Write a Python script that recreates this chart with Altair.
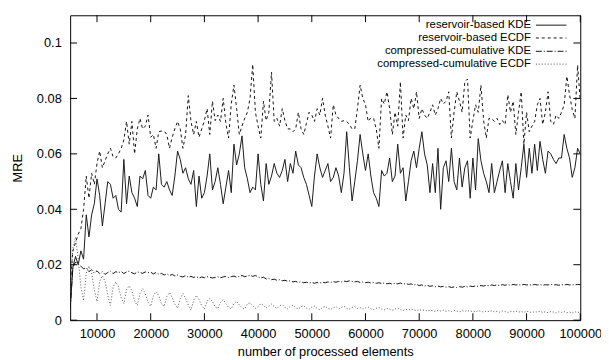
import altair as alt
import pandas as pd

# ---------------- data ----------------
x_elements = list(range(5000, 100001, 500))

kde_reservoir = [
    0.004, 0.019, 0.023, 0.020, 0.025, 0.022, 0.038, 0.030, 0.038, 0.042,
    0.051, 0.045, 0.034, 0.042, 0.050, 0.049, 0.044, 0.045, 0.040, 0.039,
    0.058, 0.042, 0.052, 0.046, 0.044, 0.041, 0.052, 0.051, 0.054, 0.045,
    0.044, 0.048, 0.047, 0.060, 0.049, 0.048, 0.050, 0.047, 0.045, 0.052,
    0.061, 0.058, 0.053, 0.055, 0.051, 0.049, 0.054, 0.041, 0.052, 0.044,
    0.046, 0.052, 0.060, 0.047, 0.050, 0.055, 0.049, 0.042, 0.048, 0.054,
    0.046, 0.0635, 0.056, 0.060, 0.0665, 0.055, 0.051, 0.046, 0.048, 0.047,
    0.060, 0.049, 0.043, 0.0565, 0.049, 0.052, 0.0565, 0.053, 0.0515, 0.054,
    0.058, 0.050, 0.0565, 0.053, 0.061, 0.056, 0.055, 0.0515, 0.049, 0.045,
    0.041, 0.052, 0.060, 0.055, 0.0515, 0.054, 0.0565, 0.050, 0.0515, 0.055,
    0.052, 0.046, 0.053, 0.068, 0.055, 0.043, 0.050, 0.0575, 0.067, 0.060,
    0.054, 0.060, 0.052, 0.046, 0.044, 0.041, 0.054, 0.052, 0.053, 0.0585,
    0.050, 0.052, 0.0635, 0.053, 0.055, 0.043, 0.050, 0.0575, 0.061, 0.055,
    0.062, 0.068, 0.060, 0.056, 0.046, 0.0565, 0.046, 0.062, 0.040, 0.055,
    0.0575, 0.050, 0.062, 0.050, 0.047, 0.0585, 0.048, 0.055, 0.0575, 0.044,
    0.0585, 0.047, 0.0655, 0.0575, 0.053, 0.050, 0.046, 0.0565, 0.046, 0.050,
    0.054, 0.0575, 0.046, 0.0565, 0.050, 0.044, 0.0565, 0.047, 0.055, 0.0635,
    0.0515, 0.062, 0.053, 0.0635, 0.054, 0.0645, 0.058, 0.053, 0.061, 0.060,
    0.058, 0.0565, 0.0585, 0.0585, 0.067, 0.062, 0.0585, 0.0515, 0.055, 0.062,
    0.060,
]

ecdf_reservoir = [
    0.012, 0.025, 0.028, 0.031, 0.033, 0.040, 0.052, 0.044, 0.053, 0.049,
    0.0565, 0.061, 0.055, 0.0575, 0.060, 0.062, 0.059, 0.0585, 0.060, 0.062,
    0.065, 0.0717, 0.0635, 0.0717, 0.060, 0.069, 0.0728, 0.069, 0.070, 0.074,
    0.066, 0.067, 0.062, 0.068, 0.0682, 0.0682, 0.067, 0.062, 0.066, 0.069,
    0.0717, 0.069, 0.062, 0.067, 0.081, 0.0717, 0.067, 0.0717, 0.066, 0.069,
    0.072, 0.0763, 0.067, 0.079, 0.072, 0.074, 0.0717, 0.080, 0.071, 0.0657,
    0.078, 0.0848, 0.0763, 0.067, 0.070, 0.0728, 0.075, 0.080, 0.0923, 0.075,
    0.070, 0.0657, 0.079, 0.072, 0.075, 0.0895, 0.0717, 0.0728, 0.070, 0.0763,
    0.072, 0.069, 0.069, 0.068, 0.069, 0.075, 0.069, 0.067, 0.071, 0.075,
    0.074, 0.0717, 0.0763, 0.074, 0.080, 0.074, 0.070, 0.0657, 0.0777, 0.074,
    0.0728, 0.0717, 0.072, 0.0717, 0.0706, 0.069, 0.069, 0.0763, 0.0848, 0.080,
    0.0777, 0.0717, 0.073, 0.0728, 0.069, 0.062, 0.080, 0.078, 0.0824, 0.0763,
    0.067, 0.075, 0.070, 0.086, 0.0657, 0.074, 0.072, 0.080, 0.0763, 0.0824,
    0.0728, 0.0763, 0.074, 0.0728, 0.075, 0.0777, 0.074, 0.0763, 0.080, 0.078,
    0.079, 0.0824, 0.0657, 0.075, 0.0824, 0.079, 0.075, 0.086, 0.087, 0.0657,
    0.072, 0.0777, 0.075, 0.0848, 0.072, 0.0657, 0.0728, 0.0728, 0.0717, 0.0728,
    0.0706, 0.072, 0.0706, 0.0813, 0.075, 0.079, 0.067, 0.075, 0.0824, 0.0635,
    0.075, 0.068, 0.070, 0.0717, 0.0777, 0.080, 0.0706, 0.075, 0.0824, 0.0717,
    0.0706, 0.074, 0.0728, 0.075, 0.0777, 0.088, 0.0813, 0.076, 0.0728, 0.092,
    0.079,
]

kde_compressed = [
    0.004, 0.019, 0.021, 0.020, 0.0195, 0.0185, 0.019, 0.0175, 0.0182, 0.017,
    0.0178, 0.0168, 0.0175, 0.0165, 0.0172, 0.0177, 0.0168, 0.0175, 0.0171, 0.0176,
    0.0168, 0.0174, 0.0177, 0.0171, 0.0167, 0.0174, 0.0172, 0.0169, 0.0174, 0.0171,
    0.0173, 0.0167, 0.0172, 0.0166, 0.0169, 0.0163, 0.0167, 0.0161, 0.0165, 0.0159,
    0.0163, 0.0158, 0.0156, 0.0161, 0.0155, 0.0158, 0.0154, 0.0157, 0.0152, 0.0156,
    0.0153, 0.0157, 0.0155, 0.0152, 0.0154, 0.0157, 0.0153, 0.0156, 0.0158, 0.0154,
    0.0157, 0.0159, 0.0155, 0.0158, 0.0161, 0.0157, 0.0159, 0.0162, 0.0158, 0.0161,
    0.0157, 0.0152, 0.0155, 0.0149, 0.0151, 0.0146, 0.0148, 0.0144, 0.0146, 0.0142,
    0.0144, 0.0140, 0.0142, 0.0138, 0.0140, 0.0136, 0.0139, 0.0135, 0.0137, 0.0134,
    0.0136, 0.0133, 0.0136, 0.0134, 0.0137, 0.0135, 0.0138, 0.0136, 0.0139, 0.0137,
    0.0140, 0.0138, 0.0141, 0.0139, 0.0142, 0.0140, 0.0138, 0.0140, 0.0136, 0.0138,
    0.0135, 0.0137, 0.0134, 0.0136, 0.0133, 0.0135, 0.0132, 0.0134, 0.0131, 0.0133,
    0.0130, 0.0133, 0.0131, 0.0134, 0.0130, 0.0132, 0.0129, 0.0131, 0.0127, 0.0129,
    0.0125, 0.0127, 0.0123, 0.0126, 0.0122, 0.0124, 0.0121, 0.0123, 0.0120, 0.0122,
    0.0119, 0.0121, 0.0118, 0.0120, 0.0118, 0.0121, 0.0119, 0.0122, 0.0120, 0.0123,
    0.0121, 0.0124, 0.0122, 0.0125, 0.0123, 0.0126, 0.0124, 0.0127, 0.0125, 0.0127,
    0.0125, 0.0128, 0.0126, 0.0128, 0.0126, 0.0129, 0.0127, 0.0128, 0.0126, 0.0129,
    0.0127, 0.0128, 0.0126, 0.0129, 0.0127, 0.0128, 0.0126, 0.0128, 0.0127, 0.0129,
    0.0127, 0.0128, 0.0126, 0.0128, 0.0127, 0.0129, 0.0127, 0.0128, 0.0127, 0.0129,
    0.0128,
]

ecdf_compressed = [
    0.010, 0.026, 0.030, 0.022, 0.012, 0.007, 0.017, 0.0195, 0.017, 0.011,
    0.0067, 0.014, 0.016, 0.014, 0.009, 0.0053, 0.012, 0.0138, 0.012, 0.008,
    0.006, 0.011, 0.0124, 0.0105, 0.007, 0.0053, 0.0095, 0.0114, 0.0095, 0.0065,
    0.005, 0.0088, 0.0103, 0.0088, 0.006, 0.005, 0.0085, 0.010, 0.0082, 0.0058,
    0.0043, 0.0078, 0.0096, 0.0078, 0.0055, 0.0036, 0.0072, 0.0089, 0.0074, 0.0052,
    0.0040, 0.0068, 0.0080, 0.0066, 0.0048, 0.0042, 0.0064, 0.0074, 0.0060, 0.0046,
    0.0041, 0.0060, 0.0068, 0.0055, 0.0045, 0.0040, 0.0058, 0.0063, 0.0052, 0.0043,
    0.0048, 0.0060, 0.0054, 0.0044, 0.0050, 0.0058, 0.0049, 0.0042, 0.0052, 0.0056,
    0.0046, 0.0041, 0.0050, 0.0054, 0.0045, 0.0040, 0.0049, 0.0052, 0.0043, 0.0039,
    0.0047, 0.0051, 0.0042, 0.0038, 0.0046, 0.0050, 0.0042, 0.0039, 0.0045, 0.0049,
    0.0041, 0.0046, 0.0050, 0.0043, 0.0040, 0.0046, 0.0049, 0.0042, 0.0045, 0.0040,
    0.0044, 0.0047, 0.0041, 0.0038, 0.0043, 0.0046, 0.0040, 0.0037, 0.0042, 0.0039,
    0.0036, 0.0040, 0.0043, 0.0038, 0.0035, 0.0039, 0.0036, 0.0040, 0.0037, 0.0034,
    0.0038, 0.0035, 0.0037, 0.0033, 0.0036, 0.0034, 0.0031, 0.0035, 0.0033, 0.0036,
    0.0032, 0.0034, 0.0031, 0.0035, 0.0033, 0.0030, 0.0034, 0.0032, 0.0035, 0.0031,
    0.0033, 0.0030, 0.0034, 0.0032, 0.0029, 0.0033, 0.0031, 0.0034, 0.0030, 0.0032,
    0.0029, 0.0033, 0.0031, 0.0028, 0.0032, 0.0030, 0.0033, 0.0029, 0.0031, 0.0028,
    0.0032, 0.0030, 0.0027, 0.0031, 0.0029, 0.0032, 0.0028, 0.0030, 0.0027, 0.0031,
    0.0029, 0.0026, 0.0030, 0.0028, 0.0031, 0.0027, 0.0029, 0.0026, 0.0030, 0.0028,
    0.0029,
]

series_names = [
    "reservoir-based KDE",
    "reservoir-based ECDF",
    "compressed-cumulative KDE",
    "compressed-cumulative ECDF",
]
x_ticks = [10000, 20000, 30000, 40000, 50000, 60000, 70000, 80000, 90000, 100000]
y_ticks = [0, 0.02, 0.04, 0.06, 0.08, 0.1]

# ---------------- chart ----------------
FONT = "Liberation Sans"
W, H = 517, 309
xs = alt.Scale(domain=[5000, 100000], nice=False, zero=False)
ys = alt.Scale(domain=[0, 0.11], nice=False, zero=False)

df = pd.DataFrame({
    "x": x_elements,
    "kde_res": kde_reservoir,
    "ecdf_res": ecdf_reservoir,
    "kde_comp": kde_compressed,
    "ecdf_comp": ecdf_compressed,
})

styles = {
    "kde_res": dict(color="#1a1a1a"),
    "ecdf_res": dict(color="#111111", strokeDash=[3, 3]),
    "kde_comp": dict(color="#111111", strokeDash=[6, 2, 1, 2]),
    "ecdf_comp": dict(color="#555555", strokeDash=[1, 2]),
}

x_axis = alt.Axis(
    values=x_ticks, format="d", title="number of processed elements",
    ticks=False, domain=False, grid=False, labelPadding=8, labelFlush=False,
    labelFont=FONT, labelFontSize=13, labelColor="black",
    titleFont=FONT, titleFontSize=13, titleFontWeight="normal", titleColor="black",
    titlePadding=5,
)
y_axis = alt.Axis(
    values=y_ticks, title="MRE",
    labelExpr="datum.value == 0 ? '0' : datum.value == 0.1 ? '0.1' : format(datum.value, '.2f')",
    ticks=False, domain=False, grid=False, labelPadding=9,
    labelFont=FONT, labelFontSize=13, labelColor="black",
    titleFont=FONT, titleFontSize=13, titleFontWeight="normal", titleColor="black",
    titlePadding=12,
)

layers = []
for col in ["kde_res", "ecdf_res", "kde_comp", "ecdf_comp"]:
    layers.append(
        alt.Chart(df).mark_line(strokeWidth=1, clip=True, **styles[col]).encode(
            x=alt.X("x:Q", scale=xs, axis=x_axis),
            y=alt.Y(f"{col}:Q", scale=ys, axis=y_axis),
        )
    )

# inward ticks on all four sides (gnuplot style)
xt = pd.DataFrame({"t": x_ticks})
yt = pd.DataFrame({"t": y_ticks})
TL = 7
layers.append(alt.Chart(xt).mark_rule(color="black", strokeWidth=1).encode(
    x=alt.X("t:Q", scale=xs, axis=x_axis), y=alt.value(H), y2=alt.value(H - TL)))
layers.append(alt.Chart(xt).mark_rule(color="black", strokeWidth=1).encode(
    x=alt.X("t:Q", scale=xs, axis=x_axis), y=alt.value(0), y2=alt.value(TL)))
layers.append(alt.Chart(yt).mark_rule(color="black", strokeWidth=1).encode(
    y=alt.Y("t:Q", scale=ys, axis=y_axis), x=alt.value(0), x2=alt.value(TL)))
layers.append(alt.Chart(yt).mark_rule(color="black", strokeWidth=1).encode(
    y=alt.Y("t:Q", scale=ys, axis=y_axis), x=alt.value(W), x2=alt.value(W - TL)))

# legend (gnuplot style: label right-aligned, sample to the right)
LEG_FS = 11.5
row_y = [10, 23, 36.5, 49.5]
text_right = 467
sample_x = (472, 503)
for name, col, yy in zip(series_names, ["kde_res", "ecdf_res", "kde_comp", "ecdf_comp"], row_y):
    ld = pd.DataFrame({"label": [name]})
    layers.append(alt.Chart(ld).mark_text(
        align="right", baseline="middle", font=FONT, fontSize=LEG_FS, color="black"
    ).encode(text="label:N", x=alt.value(text_right), y=alt.value(yy)))
    layers.append(alt.Chart(ld).mark_rule(strokeWidth=1, **styles[col]).encode(
        x=alt.value(sample_x[0]), x2=alt.value(sample_x[1]), y=alt.value(yy)))

chart = alt.layer(*layers).properties(
    width=W, height=H,
    padding={"left": 63, "top": 5, "right": 21, "bottom": 38},
    autosize=alt.AutoSizeParams(type="none"),
).configure(background="white").configure_view(stroke="black", strokeWidth=1)

chart.save("out.html", embed_options={"renderer": "svg", "actions": False})
